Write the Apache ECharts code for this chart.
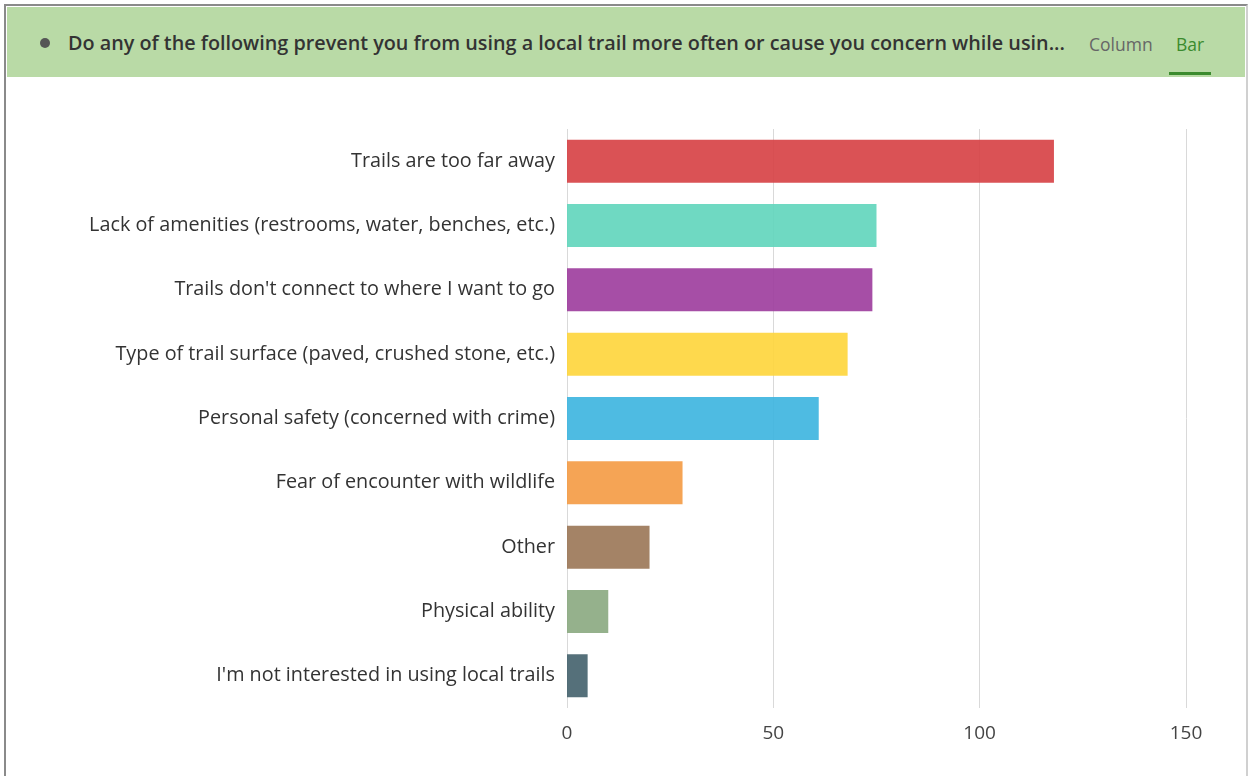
<!DOCTYPE html>
<html>
<head>
<meta charset="utf-8">
<script src="https://cdn.jsdelivr.net/npm/echarts@6/dist/echarts.min.js"></script>
<style>
  html, body { margin: 0; padding: 0; background: #fff; }
  body { width: 1254px; height: 776px; position: relative; overflow: hidden; font-family: "Open Sans", "Noto Sans", sans-serif; }
  #frame { position: absolute; left: 4px; top: 4px; width: 1240px; height: 790px; border: 2px solid #8a8a8a; border-right-color: #d0d0d0; border-bottom: none; }
  #header { position: absolute; left: 7px; top: 7px; width: 1238px; height: 70px; background: #b9daa6; }
  #header .dot { position: absolute; left: 33px; top: 31px; width: 10px; height: 10px; border-radius: 50%; background: #555; }
  #header .q { position: absolute; left: 61px; top: 22px; font-size: 19.8px; font-weight: 600; color: #333; white-space: nowrap; }
  #header .tab { position: absolute; top: 25px; font-size: 17.5px; color: #666; }
  #header .tab.on { color: #3b8b2e; }
  #header .bar-line { position: absolute; left: 1162px; top: 65px; width: 42px; height: 3px; background: #3b8b2e; }
  #chart { position: absolute; left: 0; top: 0; width: 1254px; height: 776px; }
</style>
</head>
<body>
<div id="frame"></div>
<div id="header">
  <div class="dot"></div>
  <div class="q">Do any of the following prevent you from using a local trail more often or cause you concern while usin...</div>
  <div class="tab" style="left:1082px">Column</div>
  <div class="tab on" style="left:1169px">Bar</div>
  <div class="bar-line"></div>
</div>
<div id="chart"></div>
<script>
// categories, top to bottom
const categories = [
  'Trails are too far away',
  'Lack of amenities (restrooms, water, benches, etc.)',
  "Trails don't connect to where I want to go",
  'Type of trail surface (paved, crushed stone, etc.)',
  'Personal safety (concerned with crime)',
  'Fear of encounter with wildlife',
  'Other',
  'Physical ability',
  "I'm not interested in using local trails"
];
const counts = [118, 75, 74, 68, 61, 28, 20, 10, 5];
const barColors = ['#d63f42', '#5fd5bb', '#9c3b9c', '#fed53a', '#3bb4df', '#f49a42', '#9a7655', '#8aa880', '#43616b'];
const xTicks = [0, 50, 100, 150];

const chart = echarts.init(document.getElementById('chart'));

const option = {
  animation: false,
  grid: { left: 567, right: 68, top: 129, bottom: 68 },
  xAxis: {
    type: 'value',
    min: xTicks[0],
    max: xTicks[xTicks.length - 1],
    interval: 50,
    axisLine: { show: false },
    axisTick: { show: false },
    axisLabel: { color: '#444', fontSize: 19, fontFamily: 'Open Sans', margin: 16 },
    splitLine: { lineStyle: { color: '#d9d9d9', width: 1 } }
  },
  yAxis: {
    type: 'category',
    inverse: true,
    data: categories,
    axisLine: { show: false },
    axisTick: { show: false },
    axisLabel: { color: '#333', fontSize: 19.8, fontFamily: 'Open Sans', margin: 12 }
  },
  series: [{
    type: 'bar',
    data: counts.map((v, i) => ({ value: v, itemStyle: { color: barColors[i] } })),
    barWidth: 43,
    itemStyle: { opacity: 0.9 }
  }]
};

chart.setOption(option);
</script>
</body>
</html>
